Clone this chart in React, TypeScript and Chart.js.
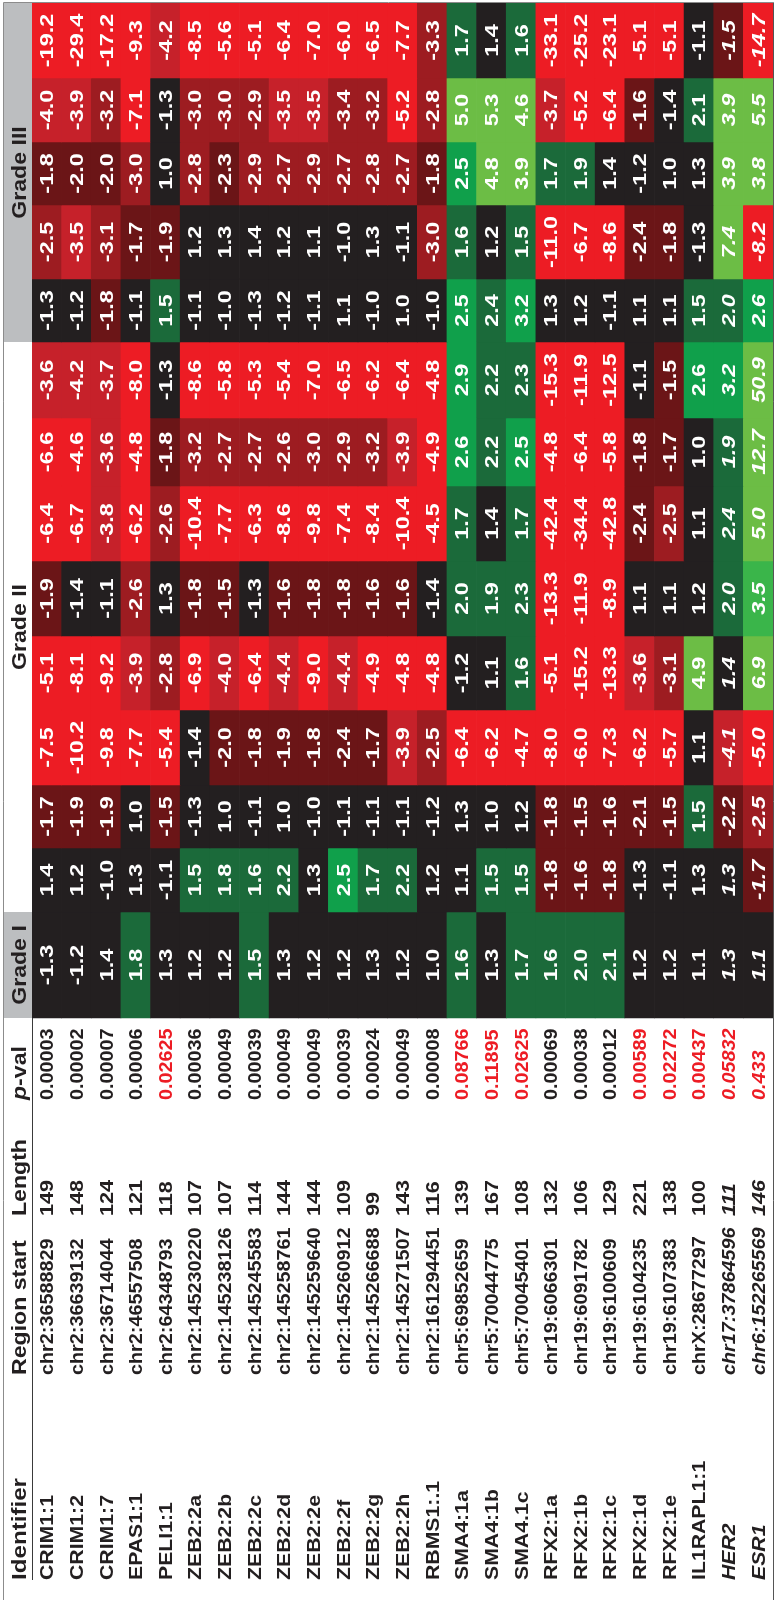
import { useEffect, useRef } from "react";
import { Chart, registerables } from "chart.js";

Chart.register(...registerables);

// ---------------- DATA ----------------
const identifiers = ["CRIM1:1", "CRIM1:2", "CRIM1:7", "EPAS1:1", "PELI1:1", "ZEB2:2a", "ZEB2:2b", "ZEB2:2c", "ZEB2:2d", "ZEB2:2e", "ZEB2:2f", "ZEB2:2g", "ZEB2:2h", "RBMS1:.1", "SMA4:1a", "SMA4:1b", "SMA4.1c", "RFX2:1a", "RFX2:1b", "RFX2:1c", "RFX2:1d", "RFX2:1e", "IL1RAPL1:1", "HER2", "ESR1"];

const regionStarts = ["chr2:36588829", "chr2:36639132", "chr2:36714044", "chr2:46557508", "chr2:64348793", "chr2:145230220", "chr2:145238126", "chr2:145245583", "chr2:145258761", "chr2:145259640", "chr2:145260912", "chr2:145266688", "chr2:145271507", "chr2:161294451", "chr5:69852659", "chr5:70044775", "chr5:70045401", "chr19:6066301", "chr19:6091782", "chr19:6100609", "chr19:6104235", "chr19:6107383", "chrX:28677297", "chr17:37864596", "chr6:152265569"];

const lengths = [149, 148, 124, 121, 118, 107, 107, 114, 144, 144, 109, 99, 143, 116, 139, 167, 108, 132, 106, 129, 221, 138, 100, 111, 146];

const pValues = [0.00003, 0.00002, 0.00007, 0.00006, 0.02625, 0.00036, 0.00049, 0.00039, 0.00049, 0.00049, 0.00039, 0.00024, 0.00049, 0.00008, 0.08766, 0.11895, 0.02625, 0.00069, 0.00038, 0.00012, 0.00589, 0.02272, 0.00437, 0.05832, 0.433];

const controlGenes = ["HER2", "ESR1"];
const pThreshold = 0.001;

// Grade I
const gradeI_1 = [-1.3, -1.2, 1.4, 1.8, 1.3, 1.2, 1.2, 1.5, 1.3, 1.2, 1.2, 1.3, 1.2, 1.0, 1.6, 1.3, 1.7, 1.6, 2.0, 2.1, 1.2, 1.2, 1.1, 1.3, 1.1];
// Grade II
const gradeII_1 = [1.4, 1.2, -1.0, 1.3, -1.1, 1.5, 1.8, 1.6, 2.2, 1.3, 2.5, 1.7, 2.2, 1.2, 1.1, 1.5, 1.5, -1.8, -1.6, -1.8, -1.3, -1.1, 1.3, 1.3, -1.7];
const gradeII_2 = [-1.7, -1.9, -1.9, 1.0, -1.5, -1.3, 1.0, -1.1, 1.0, -1.0, -1.1, -1.1, -1.1, -1.2, 1.3, 1.0, 1.2, -1.8, -1.5, -1.6, -2.1, -1.5, 1.5, -2.2, -2.5];
const gradeII_3 = [-7.5, -10.2, -9.8, -7.7, -5.4, -1.4, -2.0, -1.8, -1.9, -1.8, -2.4, -1.7, -3.9, -2.5, -6.4, -6.2, -4.7, -8.0, -6.0, -7.3, -6.2, -5.7, 1.1, -4.1, -5.0];
const gradeII_4 = [-5.1, -8.1, -9.2, -3.9, -2.8, -6.9, -4.0, -6.4, -4.4, -9.0, -4.4, -4.9, -4.8, -4.8, -1.2, 1.1, 1.6, -5.1, -15.2, -13.3, -3.6, -3.1, 4.9, 1.4, 6.9];
const gradeII_5 = [-1.9, -1.4, -1.1, -2.6, 1.3, -1.8, -1.5, -1.3, -1.6, -1.8, -1.8, -1.6, -1.6, -1.4, 2.0, 1.9, 2.3, -13.3, -11.9, -8.9, 1.1, 1.1, 1.2, 2.0, 3.5];
const gradeII_6 = [-6.4, -6.7, -3.8, -6.2, -2.6, -10.4, -7.7, -6.3, -8.6, -9.8, -7.4, -8.4, -10.4, -4.5, 1.7, 1.4, 1.7, -42.4, -34.4, -42.8, -2.4, -2.5, 1.1, 2.4, 5.0];
const gradeII_7 = [-6.6, -4.6, -3.6, -4.8, -1.8, -3.2, -2.7, -2.7, -2.6, -3.0, -2.9, -3.2, -3.9, -4.9, 2.6, 2.2, 2.5, -4.8, -6.4, -5.8, -1.8, -1.7, 1.0, 1.9, 12.7];
const gradeII_8 = [-3.6, -4.2, -3.7, -8.0, -1.3, -8.6, -5.8, -5.3, -5.4, -7.0, -6.5, -6.2, -6.4, -4.8, 2.9, 2.2, 2.3, -15.3, -11.9, -12.5, -1.1, -1.5, 2.6, 3.2, 50.9];
// Grade III
const gradeIII_1 = [-1.3, -1.2, -1.8, -1.1, 1.5, -1.1, -1.0, -1.3, -1.2, -1.1, 1.1, -1.0, 1.0, -1.0, 2.5, 2.4, 3.2, 1.3, 1.2, -1.1, 1.1, 1.1, 1.5, 2.0, 2.6];
const gradeIII_2 = [-2.5, -3.5, -3.1, -1.7, -1.9, 1.2, 1.3, 1.4, 1.2, 1.1, -1.0, 1.3, -1.1, -3.0, 1.6, 1.2, 1.5, -11.0, -6.7, -8.6, -2.4, -1.8, -1.3, 7.4, -8.2];
const gradeIII_3 = [-1.8, -2.0, -2.0, -3.0, 1.0, -2.8, -2.3, -2.9, -2.7, -2.9, -2.7, -2.8, -2.7, -1.8, 2.5, 4.8, 3.9, 1.7, 1.9, 1.4, -1.2, 1.0, 1.3, 3.9, 3.8];
const gradeIII_4 = [-4.0, -3.9, -3.2, -7.1, -1.3, -3.0, -3.0, -2.9, -3.5, -3.5, -3.4, -3.2, -5.2, -2.8, 5.0, 5.3, 4.6, -3.7, -5.2, -6.4, -1.6, -1.4, 2.1, 3.9, 5.5];
const gradeIII_5 = [-19.2, -29.4, -17.2, -9.3, -4.2, -8.5, -5.6, -5.1, -6.4, -7.0, -6.0, -6.5, -7.7, -3.3, 1.7, 1.4, 1.6, -33.1, -25.2, -23.1, -5.1, -5.1, -1.1, -1.5, -14.7];

const gradeGroups = [
  { label: "Grade I", shaded: true, columns: [gradeI_1] },
  { label: "Grade II", shaded: false, columns: [gradeII_1, gradeII_2, gradeII_3, gradeII_4, gradeII_5, gradeII_6, gradeII_7, gradeII_8] },
  { label: "Grade III", shaded: true, columns: [gradeIII_1, gradeIII_2, gradeIII_3, gradeIII_4, gradeIII_5] },
];

// ---------------- LAYOUT / STYLE ----------------
// band thickness of each heat-map column (Grade I col first), in layout units
const BAND_SIZE = [106, 64, 63, 75, 74, 75, 75, 68, 76, 63, 74, 63, 64, 75];
const TEXT_START = { pval: 1097, length: 1213, region: 1372, identifier: 1577 };
const Y_MAX = 1597;
const FONT = "'Liberation Sans', Arial, Helvetica, sans-serif";
const INK = "#231f20";
const RED = "#ed1c24";

const COLORS = {
  black: "#231f20",
  r1: "#6b1517",
  r2: "#9d1c21",
  r3: "#c6212a",
  r4: "#ed1c24",
  g1: "#1b6a3a",
  g2: "#10a04b",
  g3: "#3ab54a",
  g4: "#6cbd45",
};

function cellColor(v: number): string {
  if (v <= -4.5) return COLORS.r4;
  if (v <= -3.5) return COLORS.r3;
  if (v <= -2.5) return COLORS.r2;
  if (v <= -1.5) return COLORS.r1;
  if (v < 1.5) return COLORS.black;
  if (v < 2.5) return COLORS.g1;
  if (v < 3.5) return COLORS.g2;
  if (v < 3.8) return COLORS.g3;
  return COLORS.g4;
}

type TxtOpts = { size: number; italic?: boolean; color?: string; align?: CanvasTextAlign; stretch?: number };

function drawRotated(ctx: CanvasRenderingContext2D, text: string, px: number, py: number, o: TxtOpts) {
  const { size, italic = false, color = INK, align = "left", stretch = 1.2 } = o;
  ctx.save();
  ctx.translate(px, py);
  ctx.rotate(-Math.PI / 2);
  ctx.scale(stretch, 1);
  ctx.font = `${italic ? "italic " : ""}bold ${size}px ${FONT}`;
  ctx.fillStyle = color;
  ctx.textAlign = align;
  ctx.textBaseline = "alphabetic";
  ctx.fillText(text, 0, size * 0.358);
  ctx.restore();
}

const allColumns = gradeGroups.flatMap((g) => g.columns);

const tablePlugin = {
  id: "tableText",
  afterDatasetsDraw(chart: any) {
    const ctx: CanvasRenderingContext2D = chart.ctx;
    const xs = chart.scales.x;
    const ys = chart.scales.y;
    const area = chart.chartArea;
    const nCols = allColumns.length;
    const headX0 = 4;
    const headX1 = area.left;
    const headCx = (headX0 + headX1) / 2;

    // column extents from bar elements
    const colTop: number[] = [];
    const colBot: number[] = [];
    for (let c = 0; c < nCols; c++) {
      const meta = chart.getDatasetMeta(nCols - 1 - c);
      const el = meta.data[0];
      colTop[c] = Math.min(el.y, el.base);
      colBot[c] = Math.max(el.y, el.base);
    }

    // grade header boxes + labels
    let ci = 0;
    gradeGroups.forEach((g) => {
      const first = ci;
      const last = ci + g.columns.length - 1;
      ci += g.columns.length;
      const top = colTop[last];
      const bot = colBot[first];
      if (g.shaded) {
        ctx.fillStyle = "#bcbec0";
        ctx.fillRect(headX0, top, headX1 - headX0, bot - top);
      }
      drawRotated(ctx, g.label, headCx, (top + bot) / 2, { size: 21, align: "center", stretch: 1.1 });
    });

    // cell values
    for (let c = 0; c < nCols; c++) {
      const meta = chart.getDatasetMeta(nCols - 1 - c);
      meta.data.forEach((el: any, i: number) => {
        const it = controlGenes.includes(identifiers[i]);
        drawRotated(ctx, allColumns[c][i].toFixed(1), el.x, (el.y + el.base) / 2, {
          size: 18, italic: it, color: "#ffffff", align: "center", stretch: 1.3,
        });
      });
    }

    // table headers
    const yId = ys.getPixelForValue(TEXT_START.identifier);
    const yReg = ys.getPixelForValue(TEXT_START.region);
    const yLen = ys.getPixelForValue(TEXT_START.length);
    const yP = ys.getPixelForValue(TEXT_START.pval);
    drawRotated(ctx, "Identifier", headCx, yId, { size: 21, stretch: 1.15 });
    drawRotated(ctx, "Region start", headCx, yReg, { size: 21, stretch: 1.1 });
    drawRotated(ctx, "Length", headCx, yLen, { size: 21, stretch: 1.1 });
    // p-val with italic p
    ctx.save();
    ctx.translate(headCx, yP);
    ctx.rotate(-Math.PI / 2);
    ctx.scale(1.1, 1);
    ctx.fillStyle = INK;
    ctx.textBaseline = "alphabetic";
    ctx.textAlign = "left";
    ctx.font = `italic bold 21px ${FONT}`;
    ctx.fillText("p", 0, 21 * 0.358);
    const w = ctx.measureText("p").width;
    ctx.font = `bold 21px ${FONT}`;
    ctx.fillText("-val", w, 21 * 0.358);
    ctx.restore();

    // rows
    identifiers.forEach((id, i) => {
      const cx = xs.getPixelForValue(i);
      const it = controlGenes.includes(id);
      drawRotated(ctx, id, cx, yId, { size: 18, italic: it, stretch: 1.18 });
      drawRotated(ctx, regionStarts[i], cx, yReg, { size: 18, italic: it, stretch: 1.1 });
      drawRotated(ctx, String(lengths[i]), cx, yLen, { size: 18, italic: it, stretch: 1.2 });
      drawRotated(ctx, String(pValues[i]), cx, yP, {
        size: 18, italic: it, stretch: 1.1, color: pValues[i] > pThreshold ? RED : INK,
      });
    });

    // frame lines
    ctx.save();
    ctx.lineWidth = 1;
    ctx.strokeStyle = "#8c8c8c";
    ctx.beginPath();
    ctx.moveTo(3.5, area.top - 0.5);
    ctx.lineTo(3.5, area.bottom);
    ctx.moveTo(3.5, area.top - 0.5);
    ctx.lineTo(area.right + 0.5, area.top - 0.5);
    ctx.stroke();
    ctx.strokeStyle = "#555555";
    ctx.beginPath();
    ctx.moveTo(area.right + 0.5, area.top - 0.5);
    ctx.lineTo(area.right + 0.5, area.bottom);
    ctx.stroke();
    ctx.strokeStyle = "#3a3a3a";
    ctx.beginPath();
    ctx.moveTo(area.left + 0.5, colBot[0]);
    ctx.lineTo(area.left + 0.5, yId);
    ctx.stroke();
    ctx.restore();
  },
};

export default function App() {
  const ref = useRef<HTMLCanvasElement | null>(null);

  useEffect(() => {
    document.documentElement.style.overflow = "hidden";
    const canvas = ref.current;
    if (!canvas) return;
    const nCols = allColumns.length;
    const datasets = [];
    for (let d = 0; d < nCols; d++) {
      const c = nCols - 1 - d; // top band first
      datasets.push({
        label: `col${c + 1}`,
        data: identifiers.map(() => BAND_SIZE[c]),
        backgroundColor: allColumns[c].map(cellColor),
        borderWidth: 0,
        barPercentage: 1,
        categoryPercentage: 1,
        stack: "heat",
      });
    }
    const chart = new Chart(canvas, {
      type: "bar",
      data: { labels: identifiers, datasets },
      options: {
        responsive: false,
        maintainAspectRatio: false,
        animation: false,
        events: [],
        layout: { padding: { left: 32, right: 7, top: 3, bottom: 0 } },
        plugins: { legend: { display: false }, tooltip: { enabled: false }, title: { display: false } },
        scales: {
          x: { stacked: true, display: false, offset: true },
          y: { stacked: true, display: false, reverse: true, min: 0, max: Y_MAX },
        },
      },
      plugins: [tablePlugin],
    } as any);
    return () => chart.destroy();
  }, []);

  return (
    <div style={{ position: "absolute", left: 0, top: 0, width: 780, height: 1600, background: "#ffffff" }}>
      <canvas ref={ref} width={780} height={1600} style={{ display: "block", width: 780, height: 1600 }} />
    </div>
  );
}
